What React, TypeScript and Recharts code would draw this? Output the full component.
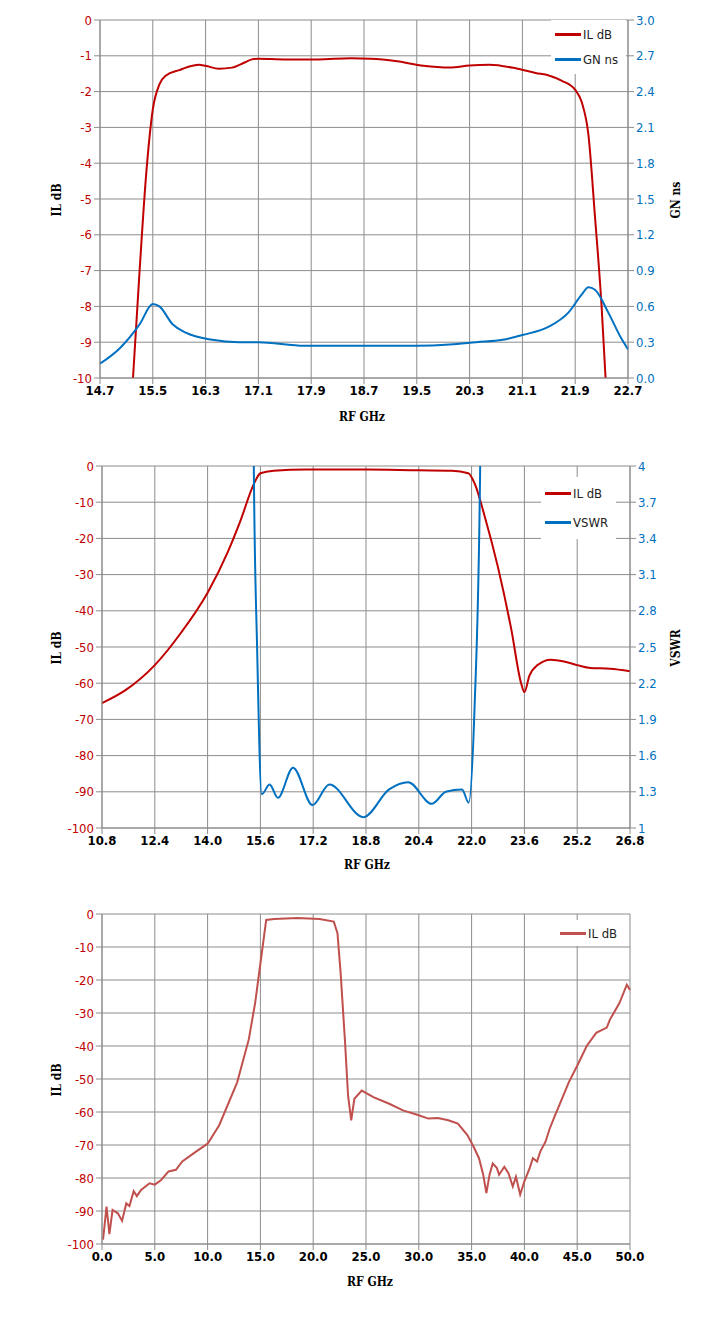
import React from 'react';
import { LineChart, Line, XAxis, YAxis, CartesianGrid } from 'recharts';

const RED = '#C00000';
const BLUE = '#0070C0';
const RED3 = '#C0504D';
const GRID = '#8c8c8c';
const FONT = "'Liberation Sans Narrow','DejaVu Sans Condensed','Open Sans',sans-serif";
const TFONT = "'DejaVu Serif Condensed','Liberation Serif',serif";

// Chart 1
const c1Freq = [15.2, 15.3, 15.4, 15.5, 15.6, 15.7, 15.9, 16.1, 16.2, 16.3, 16.5, 16.7, 16.9, 17.0, 17.1, 17.5, 18.0, 18.5, 18.8, 19.2, 19.6, 20.0, 20.3, 20.6, 21.0, 21.3, 21.5, 21.7, 21.9, 22.0, 22.1, 22.2, 22.3, 22.36];
const c1IL = [-10, -7, -4.3, -2.5, -1.8, -1.55, -1.4, -1.28, -1.25, -1.28, -1.36, -1.33, -1.18, -1.1, -1.08, -1.1, -1.1, -1.07, -1.08, -1.15, -1.28, -1.33, -1.27, -1.25, -1.35, -1.48, -1.55, -1.7, -1.95, -2.3, -3.2, -5.5, -8, -10];
const c1GFreq = [14.7, 15.0, 15.3, 15.5, 15.6, 15.8, 16.0, 16.4, 16.8, 17.1, 17.8, 18.7, 19.5, 20.0, 20.4, 20.8, 21.1, 21.5, 21.8, 22.0, 22.1, 22.2, 22.4, 22.6, 22.7];
const c1GN = [0.12, 0.25, 0.45, 0.62, 0.6, 0.45, 0.38, 0.32, 0.3, 0.3, 0.27, 0.27, 0.27, 0.28, 0.3, 0.32, 0.36, 0.43, 0.55, 0.7, 0.76, 0.74, 0.55, 0.33, 0.24];
const c1XTicks = [14.7, 15.5, 16.3, 17.1, 17.9, 18.7, 19.5, 20.3, 21.1, 21.9, 22.7];
const c1YTicks = [0, -1, -2, -3, -4, -5, -6, -7, -8, -9, -10];
const c1RTicks = [0, 0.3, 0.6, 0.9, 1.2, 1.5, 1.8, 2.1, 2.4, 2.7, 3.0];

// Chart 2
const c2Freq = [10.8, 11.5, 12.4, 13.2, 14.0, 14.6, 15.0, 15.4, 15.6, 16.0, 17.0, 18.8, 20.4, 21.4, 21.9, 22.1, 22.4, 22.8, 23.2, 23.5, 23.6, 23.75, 24.0, 24.4, 24.8, 25.2, 25.6, 26.2, 26.8];
const c2IL = [-65.5, -62, -55, -46, -35, -24, -15, -5, -2, -1.3, -1, -1, -1.2, -1.3, -2, -5, -14, -28, -45, -60, -62.5, -58, -55, -53.5, -54, -55, -55.8, -56, -56.7];
const c2VFreq = [15.35, 15.4, 15.5, 15.64, 15.88, 16.13, 16.59, 17.18, 17.69, 18.72, 19.5, 20.08, 20.79, 21.22, 21.71, 21.91, 22.09, 22.26, 22.3];
const c2VSWR = [6, 4, 2.5, 1.28, 1.36, 1.25, 1.5, 1.19, 1.36, 1.09, 1.32, 1.38, 1.2, 1.3, 1.32, 1.21, 2.0, 4, 6];
const c2XTicks = [10.8, 12.4, 14.0, 15.6, 17.2, 18.8, 20.4, 22.0, 23.6, 25.2, 26.8];
const c2YTicks = [0, -10, -20, -30, -40, -50, -60, -70, -80, -90, -100];
const c2RTicks = [1, 1.3, 1.6, 1.9, 2.2, 2.5, 2.8, 3.1, 3.4, 3.7, 4];

// Chart 3
const c3Freq = [0.1, 0.43, 0.7, 1.0, 1.5, 1.9, 2.3, 2.6, 3.0, 3.3, 3.7, 4.5, 5.0, 5.6, 6.3, 7.0, 7.6, 8.9, 10, 11.1, 12.8, 13.9, 14.5, 15.0, 15.55, 16.3, 18.5, 20.6, 21.95, 22.3, 22.6, 23.0, 23.3, 23.6, 23.9, 24.6, 25.7, 27.2, 28.5, 30.0, 30.9, 31.8, 32.8, 33.7, 34.6, 35.2, 35.7, 36.1, 36.4, 36.7, 37.0, 37.4, 37.6, 38.1, 38.5, 38.9, 39.2, 39.6, 40.0, 40.5, 40.8, 41.2, 41.5, 42.0, 42.4, 42.9, 43.3, 44.2, 45.0, 45.9, 46.8, 47.8, 48.1, 49.0, 49.7, 50];
const c3IL = [-98.7, -88.7, -97, -89.7, -90.7, -93, -87.7, -88.5, -84, -85.5, -83.6, -81.6, -82, -80.6, -78, -77.5, -75, -72, -69.6, -64, -51, -38, -27, -15, -1.8, -1.5, -1.2, -1.5, -2.3, -5.8, -18, -38, -55, -62.5, -56, -53.5, -55.5, -57.5, -59.5, -61, -62, -61.8, -62.5, -63.5, -67, -70.6, -74, -79, -84.6, -79, -75.6, -77, -79, -76.6, -78.6, -82.6, -79.6, -85, -81, -77, -74, -75, -72, -69, -65, -61, -58, -51, -46, -40, -36, -34.4, -32, -27, -21.4, -23];
const c3XTicks = [0, 5, 10, 15, 20, 25, 30, 35, 40, 45, 50];
const c3YTicks = [0, -10, -20, -30, -40, -50, -60, -70, -80, -90, -100];

const zip = (xs: number[], ys: number[], key: string) => xs.map((f, i) => ({ f, [key]: ys[i] }));

const LegendBox = ({ x, y, items, rowH }: { x: number; y: number; rowH: number; items: { name: string; color: string }[] }) => (
  <div style={{ position: 'absolute', left: x, top: y, background: '#fff', padding: '2px 8px 2px 4px' }}>
    {items.map((it) => (
      <div key={it.name} style={{ display: 'flex', alignItems: 'center', height: rowH, fontFamily: FONT, fontSize: 13, color: '#222' }}>
        <span style={{ display: 'inline-block', width: 26, height: 3, background: it.color, marginRight: 2 }} />
        {it.name}
      </div>
    ))}
  </div>
);

const tickStyle = (c: string) => ({ fill: c, fontSize: 13, fontFamily: FONT });
const xTickStyle = { fill: '#000', fontSize: 13, fontFamily: FONT, fontWeight: 'bold' as const };

const Title = ({ x, y, text, rot }: { x: number; y: number; text: string; rot: number }) => (
  <div style={{ position: 'absolute', left: x, top: y, transform: `translate(-50%,-50%) rotate(${rot}deg)`, fontFamily: TFONT, fontWeight: 'bold', fontSize: 12, whiteSpace: 'nowrap', color: '#000' }}>{text}</div>
);

export default function App() {
  return (
    <div style={{ position: 'absolute', left: 0, top: 0, width: 718, height: 1332, background: '#fff' }}>
      {/* Chart 1 */}
      <div style={{ position: 'absolute', left: 0, top: 0 }}>
        <LineChart width={718} height={420} margin={{ top: 20, left: 40, right: 30, bottom: 12 }}>
          <CartesianGrid yAxisId="l" stroke={GRID} strokeWidth={1} />
          <XAxis dataKey="f" type="number" domain={[14.7, 22.7]} ticks={c1XTicks} tickFormatter={(v) => v.toFixed(1)} tick={xTickStyle} stroke={GRID} height={30} allowDuplicatedCategory={false} />
          <YAxis yAxisId="l" domain={[-10, 0]} ticks={c1YTicks} tick={tickStyle(RED)} stroke={GRID} width={60} allowDataOverflow />
          <YAxis yAxisId="r" orientation="right" domain={[0, 3]} ticks={c1RTicks} tickFormatter={(v) => v.toFixed(1)} tick={tickStyle(BLUE)} stroke={GRID} width={60} />
          <Line yAxisId="l" data={zip(c1Freq, c1IL, 'il')} dataKey="il" name="IL dB" stroke={RED} strokeWidth={2} dot={false} type="monotone" isAnimationActive={false} />
          <Line yAxisId="r" data={zip(c1GFreq, c1GN, 'gn')} dataKey="gn" name="GN ns" stroke={BLUE} strokeWidth={2} dot={false} type="monotone" isAnimationActive={false} />
        </LineChart>
        <LegendBox x={551} y={20} rowH={25} items={[{ name: 'IL dB', color: RED }, { name: 'GN ns', color: BLUE }]} />
        <Title x={57} y={200} text="IL dB" rot={-90} />
        <Title x={676} y={200} text="GN ns" rot={-90} />
        <Title x={362} y={417} text="RF GHz" rot={0} />
      </div>
      {/* Chart 2 */}
      <div style={{ position: 'absolute', left: 0, top: 440 }}>
        <LineChart width={718} height={440} margin={{ top: 26, left: 42, right: 28, bottom: 22 }}>
          <CartesianGrid yAxisId="l" stroke={GRID} strokeWidth={1} />
          <XAxis dataKey="f" type="number" domain={[10.8, 26.8]} ticks={c2XTicks} tickFormatter={(v) => v.toFixed(1)} tick={xTickStyle} stroke={GRID} height={30} allowDuplicatedCategory={false} />
          <YAxis yAxisId="l" domain={[-100, 0]} ticks={c2YTicks} tick={tickStyle(RED)} stroke={GRID} width={60} allowDataOverflow />
          <YAxis yAxisId="r" orientation="right" domain={[1, 4]} ticks={c2RTicks} tick={tickStyle(BLUE)} stroke={GRID} width={60} allowDataOverflow />
          <Line yAxisId="l" data={zip(c2Freq, c2IL, 'il')} dataKey="il" name="IL dB" stroke={RED} strokeWidth={2} dot={false} type="monotone" isAnimationActive={false} />
          <Line yAxisId="r" data={zip(c2VFreq, c2VSWR, 'v')} dataKey="v" name="VSWR" stroke={BLUE} strokeWidth={2} dot={false} type="monotone" isAnimationActive={false} />
        </LineChart>
        <LegendBox x={541} y={37} rowH={29} items={[{ name: 'IL dB', color: RED }, { name: 'VSWR', color: BLUE }]} />
        <Title x={57} y={208} text="IL dB" rot={-90} />
        <Title x={676} y={208} text="VSWR" rot={-90} />
        <Title x={367} y={425} text="RF GHz" rot={0} />
      </div>
      {/* Chart 3 */}
      <div style={{ position: 'absolute', left: 0, top: 890 }}>
        <LineChart width={718} height={420} margin={{ top: 24, left: 42, right: 88, bottom: 36 }}>
          <CartesianGrid stroke={GRID} strokeWidth={1} />
          <XAxis dataKey="f" type="number" domain={[0, 50]} ticks={c3XTicks} tickFormatter={(v) => v.toFixed(1)} tick={xTickStyle} stroke={GRID} height={30} />
          <YAxis domain={[-100, 0]} ticks={c3YTicks} tick={tickStyle(RED)} stroke={GRID} width={60} />
          <Line data={zip(c3Freq, c3IL, 'il')} dataKey="il" name="IL dB" stroke={RED3} strokeWidth={2} dot={false} type="linear" isAnimationActive={false} />
        </LineChart>
        <LegendBox x={556} y={30} rowH={22} items={[{ name: 'IL dB', color: RED3 }]} />
        <Title x={57} y={190} text="IL dB" rot={-90} />
        <Title x={370} y={392} text="RF GHz" rot={0} />
      </div>
    </div>
  );
}
